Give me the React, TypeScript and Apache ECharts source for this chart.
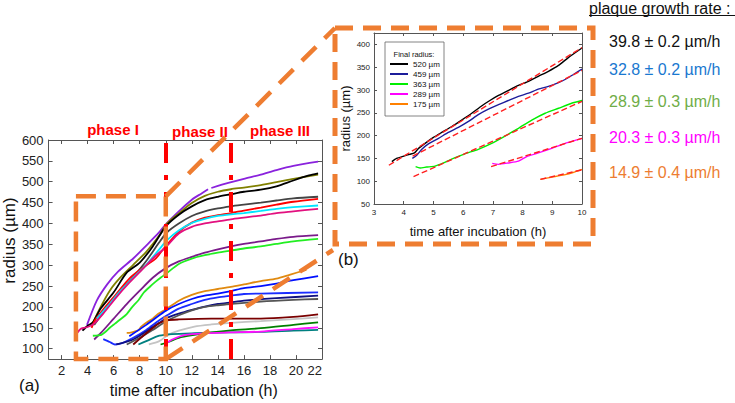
import React, { useEffect, useRef } from "react";
import * as echarts from "echarts";

// ---------- tick values ----------
const mainXTicks = [2, 4, 6, 8, 10, 12, 14, 16, 18, 20, 22];
const mainYTicks = [100, 150, 200, 250, 300, 350, 400, 450, 500, 550, 600];
const insetXTicks = [3, 4, 5, 6, 7, 8, 9, 10];
const insetYTicks = [50, 100, 150, 200, 250, 300, 350, 400];

// ---------- panel (a): radius (µm) vs time (h) ----------
const violetCurve = [[3.95, 157], [4.7, 215], [5.5, 254], [6.35, 285], [7.5, 316], [8.5, 347], [9.5, 379], [10, 398], [11, 429], [12, 457], [12.75, 472], [13.25, 482], [13.38, null], [13.5, 485], [14.8, 497], [16, 507], [17.3, 517], [18.5, 528], [19.8, 538], [21.7, 548]];
const oliveCurve = [[4.3, 155], [5, 200], [5.7, 239], [6.5, 270], [7.5, 301], [8.5, 332], [9.5, 371], [10.1, 400], [11, 424], [12, 449], [13, 466], [14, 476], [15, 482], [16, 486], [17.3, 492], [18.5, 499], [19.8, 507], [21.7, 517]];
const blackCurve = [[3.6, 143], [4, 155], [4.4, 163], [5, 196], [6, 235], [7, 282], [8, 306], [9, 345], [10, 393], [11, 421], [12, 441], [13, 456], [14, 464], [15, 470], [16, 476], [17.3, 481], [18.5, 489], [19.8, 503], [21, 515], [21.7, 520]];
const darkGrayCurve = [[4.5, 157], [5.5, 200], [6.5, 238], [7.5, 272], [8.5, 310], [9.5, 355], [10.1, 379], [11, 400], [12, 418], [13, 429], [14, 436], [15, 441], [16, 445], [17.3, 450], [18.5, 455], [19.8, 460], [21.7, 464]];
const redCurve = [[4.3, 150], [4.6, 170], [5.2, 194], [6.2, 231], [7.2, 268], [8.2, 293], [9.2, 315], [9.7, 334], [10, 346], [11, 380], [12, 402], [13, 414], [14, 420], [15, 425], [16, 431], [17.3, 438], [18.5, 445], [19.8, 452], [21.7, 459]];
const cyanCurve = [[4.7, 172], [5.5, 200], [6.5, 238], [7.5, 270], [8.5, 301], [9.5, 338], [10.1, 360], [11, 383], [12, 401], [13, 411], [14, 418], [15, 422], [16, 425], [17.3, 430], [18.5, 435], [19.8, 439], [21.7, 443]];
const pinkCurve = [[3.15, 136], [3.5, 148], [4, 152], [4.5, 160], [5.2, 184], [6.2, 223], [7.2, 258], [8.2, 290], [9.2, 322], [10, 343], [11, 376], [12, 392], [13, 400], [14, 405], [15, 410], [16, 414], [17.3, 419], [18.5, 425], [19.8, 429], [21.7, 435]];
const purpleCurve = [[4.5, 122], [5, 137], [6, 172], [7, 207], [8, 239], [9, 270], [10, 293], [11, 309], [12, 320], [13, 330], [14, 338], [15, 345], [16, 351], [17.3, 357], [18.5, 363], [19.8, 368], [21.7, 372]];
const greenCurve = [[4.4, 131], [4.8, 132], [5.05, 133], [5.35, 140], [5.7, 150], [6.1, 160], [6.5, 170], [7, 183], [7.4, 199], [7.9, 216], [8.3, 234], [8.8, 249], [9.2, 260], [9.65, 271], [10, 279], [11, 303], [12, 316], [13, 324], [14, 330], [15, 335], [16, 340], [17.3, 345], [18.5, 351], [19.8, 357], [21.7, 363]];
const orangeCurve = [[7, 138], [7.2, 138], [7.5, 140], [7.9, 144], [8.1, 152], [8.5, 162], [9, 172], [9.4, 183], [10, 194], [11, 215], [12, 229], [13, 238], [14, 243], [15, 248], [16, 254], [17.3, 262], [18.5, 268], [19.5, 277], [20.8, 289]];
const blueCurveA = [[7.2, 130], [8.5, 157], [9.5, 180], [10.1, 193], [11, 207], [12, 219], [13, 227], [14, 232], [15, 238], [16, 245], [17.3, 250], [18.5, 256], [19.8, 264], [21.7, 274]];
const blueCurveB = [[5.2, 123], [5.7, 116], [6.1, 110], [6.7, 114], [7.5, 126], [8.5, 145], [9.5, 168], [10.1, 180], [11, 196], [12, 207], [13, 217], [14, 223], [15, 227], [16, 231], [17.3, 232], [21.7, 235]];
const navyCurve = [[6.2, 110], [7.5, 122], [8.5, 141], [9.5, 162], [10.1, 174], [11, 184], [12, 193], [13, 201], [14, 207], [15, 211], [16, 215], [18.5, 221], [21.7, 227]];
const grayCurve2 = [[7, 110], [8, 126], [9, 145], [10, 165], [11, 180], [12, 192], [13, 200], [14, 204], [15, 207], [17.3, 213], [19.8, 217], [21.7, 219]];
const maroonCurve = [[7.5, 110], [8.5, 137], [9.5, 161], [10.1, 168], [11, 170], [13.5, 172], [15, 172], [17.3, 172], [19.8, 176], [21.7, 182]];
const lightGrayCurve = [[8.7, 110], [9.5, 118], [10.2, 133], [11, 143], [12.2, 153], [13.5, 158], [15, 162], [17.3, 166], [19.8, 171], [21.7, 175]];
const tealCurve = [[7.9, 110], [8.5, 118], [9.5, 131], [10.5, 135], [12.2, 137], [14.8, 139], [17.3, 140], [19.8, 143], [21.7, 145]];
const darkGreenCurve = [[9.6, 110], [10.2, 116], [11, 126], [12.2, 133], [13.5, 139], [15, 144], [17.3, 149], [19.8, 157], [21.7, 163]];
const magentaCurve = [[10, 112], [10.5, 122], [11.5, 133], [13, 137], [15, 139], [17.3, 141], [19.8, 147], [21.7, 151]];

const phaseBoundaries = [10, 15];
const zoomBox = { x0: 3.1, x1: 10, y0: 75, y1: 465 };

// ---------- panel (b): early growth ----------
const legendNames = ["520 µm", "459 µm", "363 µm", "289 µm", "175 µm"];
const inset520 = [[3.6, 143], [3.76, 150], [4.0, 155], [4.2, 159], [4.36, 162], [4.5, 172], [4.72, 183], [5.0, 196], [5.28, 207], [5.62, 220], [5.95, 234], [6.29, 249], [6.62, 265], [6.9, 277], [7.19, 288], [7.52, 299], [7.86, 310], [8.2, 319], [8.53, 330], [8.87, 341], [9.21, 354], [9.54, 371], [10, 392]];
const inset459 = [[4.29, 150], [4.44, 157], [4.61, 170], [4.83, 182], [5.17, 194], [5.5, 207], [5.84, 218], [6.18, 231], [6.51, 246], [6.85, 258], [7.19, 268], [7.52, 277], [7.86, 286], [8.2, 293], [8.53, 302], [8.87, 308], [9.21, 316], [9.43, 323], [9.71, 334], [10, 346]];
const inset363 = [[4.4, 132], [4.55, 129], [4.77, 131], [5.05, 133], [5.34, 140], [5.67, 150], [6.06, 160], [6.51, 170], [6.96, 183], [7.41, 199], [7.86, 216], [8.31, 234], [8.76, 249], [9.21, 260], [9.65, 271], [10, 277]];
const inset289 = [[6.98, 139], [7.19, 137], [7.52, 140], [7.86, 144], [8.14, 154], [8.53, 162], [8.98, 172], [9.43, 183], [10, 194]];
const inset175 = [[8.6, 104], [9.0, 109], [9.4, 114], [9.7, 119], [10, 126]];
const fit520 = [[3.5, 135], [10, 393]];
const fit459 = [[4.3, 155], [10, 343]];
const fit363 = [[4.33, 110], [10, 275]];
const fit289 = [[6.94, 132], [10, 194]];
const fit175 = [[8.6, 104], [10, 125]];

const rateTexts = ["39.8 ± 0.2 µm/h", "32.8 ± 0.2 µm/h", "28.9 ± 0.3 µm/h", "20.3 ± 0.3 µm/h", "14.9 ± 0.4 µm/h"];
const rateColors = ["#111111", "#1a78d0", "#70ad47", "#ff00ff", "#ed7d31"];

const FONT = "'Liberation Sans', Arial, sans-serif";
const ORANGE = "#ee7d31";

const mainSeriesDefs: [string, number[][], string][] = [
  ["s1", violetCurve, "#8a22dd"],
  ["s2", oliveCurve, "#808000"],
  ["s3", blackCurve, "#000000"],
  ["s4", darkGrayCurve, "#444444"],
  ["s5", redCurve, "#ff0000"],
  ["s6", cyanCurve, "#00e5ff"],
  ["s7", pinkCurve, "#e2107f"],
  ["s8", purpleCurve, "#7a1a8a"],
  ["s9", greenCurve, "#22ee22"],
  ["s10", orangeCurve, "#e08a10"],
  ["s11", blueCurveA, "#0010ff"],
  ["s12", blueCurveB, "#1a2cff"],
  ["s13", navyCurve, "#101080"],
  ["s14", grayCurve2, "#555555"],
  ["s15", maroonCurve, "#7a0000"],
  ["s16", lightGrayCurve, "#c4c4c4"],
  ["s17", tealCurve, "#008080"],
  ["s18", darkGreenCurve, "#008000"],
  ["s19", magentaCurve, "#ff10ff"],
];

const insetDefs: [string, number[][], string][] = [
  [legendNames[0], inset520, "#000000"],
  [legendNames[1], inset459, "#1c1c9a"],
  [legendNames[2], inset363, "#00ee00"],
  [legendNames[3], inset289, "#ff00ff"],
  [legendNames[4], inset175, "#ff8000"],
];
const fitDefs: [string, number[][]][] = [
  ["fit 520", fit520],
  ["fit 459", fit459],
  ["fit 363", fit363],
  ["fit 289", fit289],
  ["fit 175", fit175],
];

function axisBase(extra: any) {
  return {
    type: "value",
    splitLine: { show: false },
    axisLine: { show: true, onZero: false, lineStyle: { color: "#555", width: 1 } },
    ...extra,
  };
}

export default function App() {
  const ref = useRef<HTMLDivElement>(null);
  useEffect(() => {
    if (!ref.current) return;
    const chart = echarts.init(ref.current, undefined, { renderer: "svg" });

    const mainSeries = mainSeriesDefs.map(([name, data, color], i) => ({
      name,
      type: "line",
      xAxisIndex: 0,
      yAxisIndex: 0,
      data,
      symbol: "none",
      smooth: 0.25,
      connectNulls: false,
      z: 2,
      lineStyle: { color, width: 1.8 },
      itemStyle: { color },
    }));
    // phase boundaries on a carrier series
    (mainSeries[mainSeries.length - 1] as any).markLine = {
      symbol: "none",
      silent: true,
      label: { show: false },
      lineStyle: { color: "#ff0000", width: 4, type: [20, 12, 5, 12] },
      data: phaseBoundaries.map((v) => ({ xAxis: v })),
    };
    (mainSeries[mainSeries.length - 1] as any).z = 3;

    const insetSeries = insetDefs.map(([name, data, color]) => ({
      name,
      type: "line",
      xAxisIndex: 2,
      yAxisIndex: 2,
      data,
      symbol: "none",
      smooth: 0.2,
      z: 2,
      lineStyle: { color, width: 1.4 },
      itemStyle: { color },
    }));
    const fitSeries = fitDefs.map(([name, data]) => ({
      name,
      type: "line",
      xAxisIndex: 2,
      yAxisIndex: 2,
      data,
      symbol: "none",
      z: 3,
      lineStyle: { color: "#ff2020", width: 1.4, type: [6, 3] },
      itemStyle: { color: "#ff2020" },
    }));

    const option: any = {
      animation: false,
      backgroundColor: "#ffffff",
      textStyle: { fontFamily: FONT },
      grid: [
        { left: 45, top: 140, width: 277, height: 225, containLabel: false },
        { left: 374, top: 33, width: 208, height: 171, containLabel: false },
      ],
      legend: {
        data: legendNames,
        orient: "vertical",
        left: 390,
        top: 59,
        padding: 0,
        itemGap: 0,
        itemWidth: 18,
        itemHeight: 2,
        icon: "rect",
        textStyle: { fontSize: 8, lineHeight: 10, color: "#111", fontFamily: FONT },
        selectedMode: false,
      },
      xAxis: [
        axisBase({
          gridIndex: 0, min: 1, max: 22, position: "bottom",
          axisTick: { inside: true, length: 4, customValues: mainXTicks, lineStyle: { color: "#555" } },
          axisLabel: { customValues: mainXTicks, fontSize: 13, color: "#222", margin: 5, alignMaxLabel: "right", fontFamily: FONT },
          name: "time after incubation (h)", nameLocation: "middle", nameGap: 20,
          nameTextStyle: { fontSize: 16, color: "#111", padding: [0, 0, 0, 17], fontFamily: FONT },
        }),
        axisBase({
          gridIndex: 0, min: 1, max: 22, position: "top",
          axisTick: { inside: true, length: 4, customValues: mainXTicks, lineStyle: { color: "#555" } },
          axisLabel: { show: false },
        }),
        axisBase({
          gridIndex: 1, min: 3, max: 10, interval: 1, position: "bottom",
          axisTick: { inside: true, length: 3, lineStyle: { color: "#555" } },
          axisLabel: { fontSize: 8, color: "#222", margin: 4, fontFamily: FONT },
          name: "time after incubation (h)", nameLocation: "middle", nameGap: 21,
          nameTextStyle: { fontSize: 13, color: "#111", fontFamily: FONT },
        }),
        axisBase({
          gridIndex: 1, min: 3, max: 10, interval: 1, position: "top",
          axisTick: { inside: true, length: 3, lineStyle: { color: "#555" } },
          axisLabel: { show: false },
        }),
      ],
      yAxis: [
        axisBase({
          gridIndex: 0, min: 75, max: 600, position: "left",
          axisTick: { inside: true, length: 4, customValues: mainYTicks, lineStyle: { color: "#555" } },
          axisLabel: { customValues: mainYTicks, fontSize: 13, color: "#222", margin: 5, fontFamily: FONT },
          name: "radius (µm)", nameLocation: "middle", nameGap: 27,
          nameTextStyle: { fontSize: 17, color: "#111", padding: [0, 0, 0, 18], fontFamily: FONT },
        }),
        axisBase({
          gridIndex: 0, min: 75, max: 600, position: "right",
          axisTick: { inside: true, length: 4, customValues: mainYTicks, lineStyle: { color: "#555" } },
          axisLabel: { show: false },
        }),
        axisBase({
          gridIndex: 1, min: 50, max: 425, position: "left",
          axisTick: { inside: true, length: 3, customValues: insetYTicks, lineStyle: { color: "#555" } },
          axisLabel: { customValues: insetYTicks, fontSize: 8, color: "#222", margin: 4, fontFamily: FONT },
          name: "radius (µm)", nameLocation: "middle", nameGap: 22,
          nameTextStyle: { fontSize: 13, color: "#111", fontFamily: FONT },
        }),
        axisBase({
          gridIndex: 1, min: 50, max: 425, position: "right",
          axisTick: { inside: true, length: 3, customValues: insetYTicks, lineStyle: { color: "#555" } },
          axisLabel: { show: false },
        }),
      ],
      series: [...mainSeries, ...insetSeries, ...fitSeries],
    };
    chart.setOption(option);

    const tl = chart.convertToPixel({ gridIndex: 0 } as any, [zoomBox.x0, zoomBox.y1]) as number[];
    const br = chart.convertToPixel({ gridIndex: 0 } as any, [zoomBox.x1, zoomBox.y0]) as number[];
    const insetBox = { x0: 335, y0: 28, x1: 593, y1: 244 };

    const dashStyle = (w: number, dash: number[]) => ({ fill: "none", stroke: ORANGE, lineWidth: w, lineDash: dash });

    const graphic: any[] = [
      // legend frame and title in (b)
      { type: "rect", z: 1, shape: { x: 385, y: 42, width: 59, height: 74 }, style: { fill: "#fff", stroke: "#666", lineWidth: 0.8 } },
      { type: "text", z: 5, x: 414, y: 54, style: { text: "Final radius:", fontSize: 7.5, fill: "#111", align: "center", verticalAlign: "middle", fontFamily: FONT } },
      // phase labels
      { type: "text", z: 5, x: 113, y: 129, style: { text: "phase I", fontSize: 15, fontWeight: "bold", fill: "#ff0000", align: "center", verticalAlign: "middle", fontFamily: FONT } },
      { type: "text", z: 5, x: 200, y: 131, style: { text: "phase II", fontSize: 15, fontWeight: "bold", fill: "#ff0000", align: "center", verticalAlign: "middle", fontFamily: FONT } },
      { type: "text", z: 5, x: 280, y: 130, style: { text: "phase III", fontSize: 15, fontWeight: "bold", fill: "#ff0000", align: "center", verticalAlign: "middle", fontFamily: FONT } },
      // panel tags
      { type: "text", z: 5, x: 19, y: 385, style: { text: "(a)", fontSize: 17, fill: "#111", align: "left", verticalAlign: "middle", fontFamily: FONT } },
      { type: "text", z: 5, x: 338, y: 259, style: { text: "(b)", fontSize: 17, fill: "#111", align: "left", verticalAlign: "middle", fontFamily: FONT } },
      // rate header
      { type: "text", z: 5, x: 589, y: 8, style: { text: "plaque growth rate :", fontSize: 16, fill: "#111", align: "left", verticalAlign: "middle", fontFamily: FONT } },
      { type: "line", z: 5, shape: { x1: 589, y1: 15.5, x2: 735, y2: 15.5 }, style: { stroke: "#111", lineWidth: 1 } },
      ...rateTexts.map((t, i) => ({
        type: "text", z: 5, x: 609, y: [41, 69.5, 101.5, 137.5, 172.5][i],
        style: { text: t, fontSize: 16, fill: rateColors[i], align: "left", verticalAlign: "middle", fontFamily: FONT },
      })),
      // zoom box in (a)
      { type: "polygon", z: 60, shape: { points: [[tl[0], tl[1]], [br[0], tl[1]], [br[0], br[1]], [tl[0], br[1]]] }, style: dashStyle(4.5, [20, 10]) },
      // connectors
      { type: "line", z: 60, shape: { x1: br[0], y1: tl[1], x2: insetBox.x0, y2: insetBox.y0 }, style: dashStyle(4.5, [20, 12]) },
      { type: "line", z: 60, shape: { x1: br[0], y1: br[1], x2: 333, y2: 250 }, style: dashStyle(4.5, [20, 12]) },
      // inset frame
      { type: "polygon", z: 60, shape: { points: [[insetBox.x0, insetBox.y0], [insetBox.x1, insetBox.y0], [insetBox.x1, insetBox.y1], [insetBox.x0, insetBox.y1]] }, style: dashStyle(5, [18, 10]) },
    ];
    chart.setOption({ graphic });

    return () => chart.dispose();
  }, []);
  return <div ref={ref} style={{ position: "fixed", left: 0, top: 0, width: 735, height: 403, background: "#fff" }} />;
}
